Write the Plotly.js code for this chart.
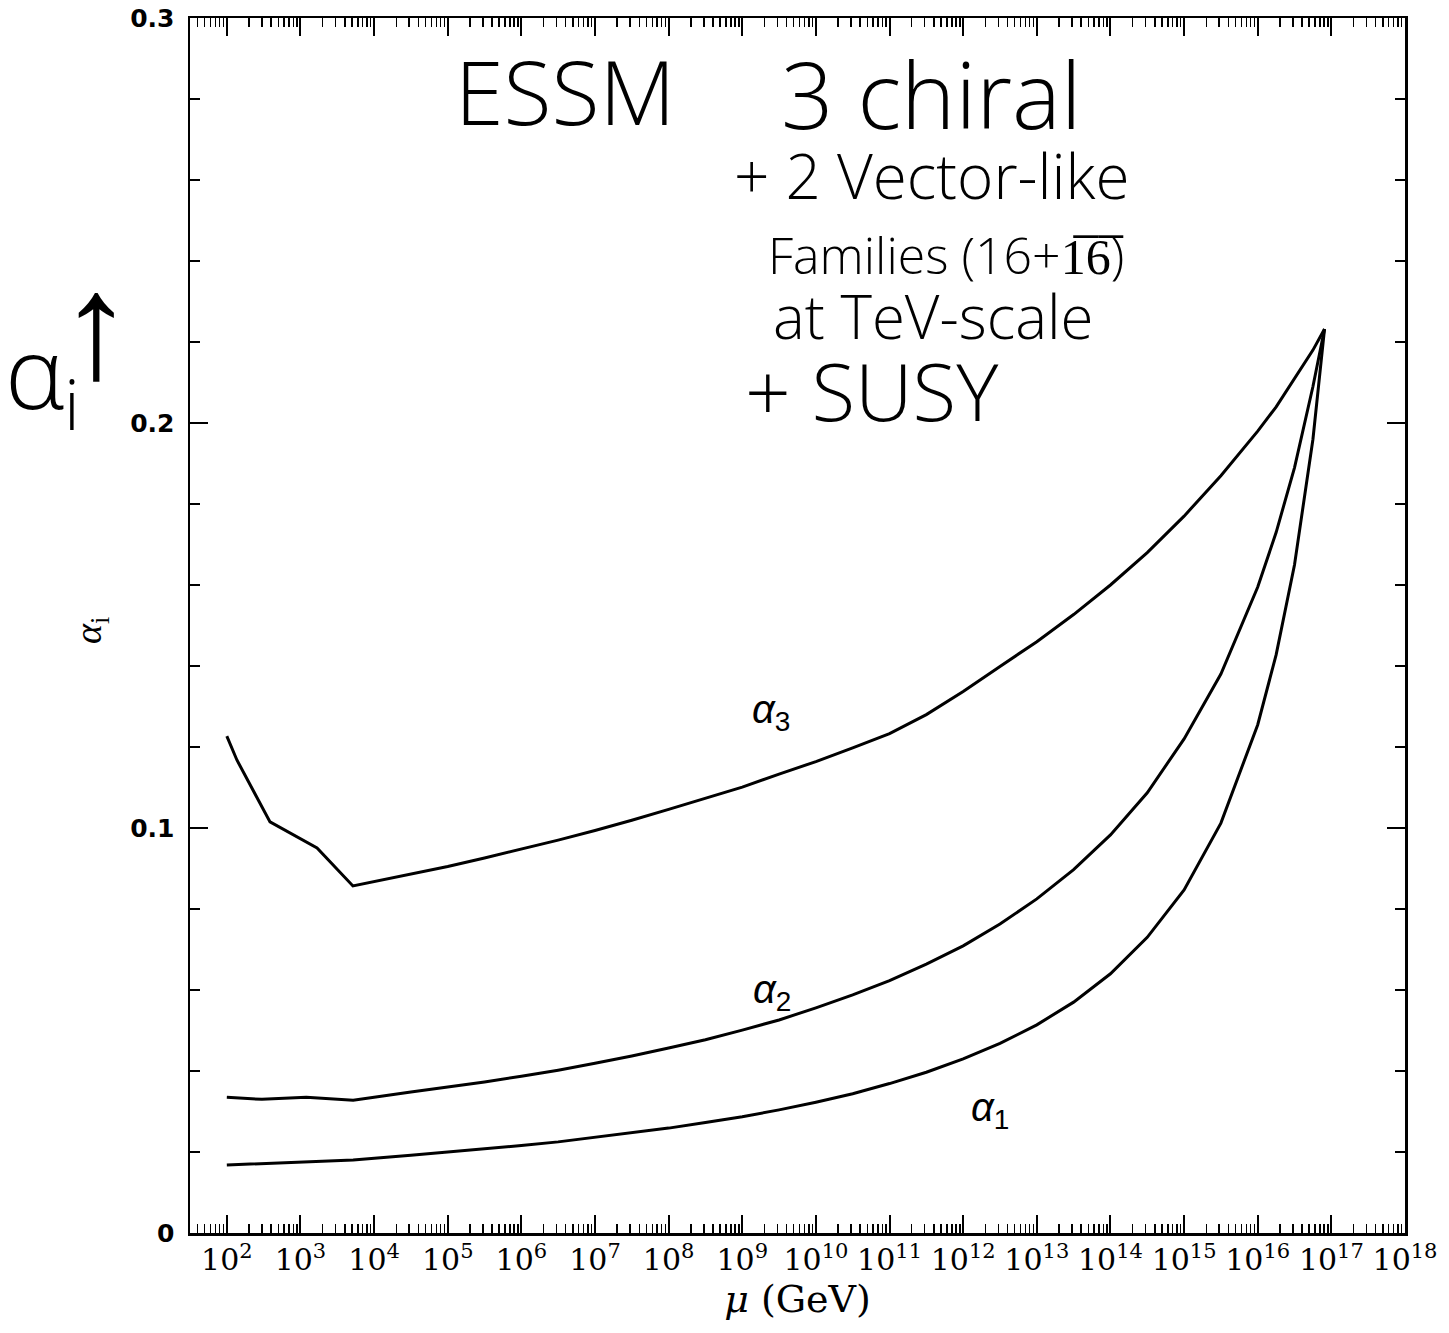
<!DOCTYPE html>
<html><head><meta charset="utf-8">
<script src="https://cdn.plot.ly/plotly-3.0.1.min.js"></script>
<style>html,body{margin:0;padding:0;background:#fff}</style>
</head><body><div id="chart" style="width:1449px;height:1333px"></div>
<script>
// Scale mu (GeV) and couplings
const mu3 = [1e2, 1.37e2, 3.86e2, 1.68e3, 5.16e3, 3.16e4, 1e5, 3.16e5, 1e6, 3.16e6, 1e7, 3.16e7, 1e8, 3.16e8, 1e9, 3.16e9, 1e10, 3.16e10, 1e11, 3.16e11, 1e12, 3.16e12, 1e13, 3.16e13, 1e14, 3.16e14, 1e15, 3.16e15, 1e16, 1.78e16, 3.16e16, 5.62e16, 8.07e16];
const alpha3 = [0.1227, 0.1168, 0.1015, 0.0951, 0.0857, 0.0886, 0.0905, 0.0926, 0.0948, 0.0970, 0.0994, 0.1019, 0.1046, 0.1073, 0.1101, 0.1133, 0.1164, 0.1198, 0.1233, 0.1280, 0.1337, 0.1399, 0.1460, 0.1527, 0.1600, 0.1680, 0.1770, 0.1870, 0.1980, 0.2040, 0.2110, 0.2180, 0.2232];

const mu2 = [1e2, 3e2, 1.2e3, 5.2e3, 3.16e4, 1e5, 3.16e5, 1e6, 3.16e6, 1e7, 3.16e7, 1e8, 3.16e8, 1e9, 3.16e9, 1e10, 3.16e10, 1e11, 3.16e11, 1e12, 3.16e12, 1e13, 3.16e13, 1e14, 3.16e14, 1e15, 3.16e15, 1e16, 1.78e16, 3.16e16, 5.62e16, 8.07e16];
const alpha2 = [0.0335, 0.0330, 0.0335, 0.0328, 0.0348, 0.0360, 0.0373, 0.0387, 0.0402, 0.0419, 0.0437, 0.0457, 0.0477, 0.0501, 0.0526, 0.0556, 0.0588, 0.0623, 0.0664, 0.0709, 0.0763, 0.0825, 0.0897, 0.0983, 0.1087, 0.1220, 0.1380, 0.1595, 0.1730, 0.1890, 0.2090, 0.2232];

const mu1 = [1e2, 1e3, 5.2e3, 3.16e4, 1e5, 3.16e5, 1e6, 3.16e6, 1e7, 3.16e7, 1e8, 3.16e8, 1e9, 3.16e9, 1e10, 3.16e10, 1e11, 3.16e11, 1e12, 3.16e12, 1e13, 3.16e13, 1e14, 3.16e14, 1e15, 3.16e15, 1e16, 1.78e16, 3.16e16, 5.62e16, 8.07e16];
const alpha1 = [0.0168, 0.0175, 0.0180, 0.0192, 0.0200, 0.0207, 0.0216, 0.0225, 0.0236, 0.0247, 0.0259, 0.0273, 0.0287, 0.0304, 0.0323, 0.0344, 0.0369, 0.0397, 0.0430, 0.0468, 0.0514, 0.0570, 0.0640, 0.0730, 0.0847, 0.1012, 0.1255, 0.1428, 0.1650, 0.1960, 0.2232];

const seriesNames = ['α3', 'α2', 'α1'];
const curveLabels = ['<i>α</i><sub>3</sub>', '<i>α</i><sub>2</sub>', '<i>α</i><sub>1</sub>'];
const curveLabelMu = [2.44e9, 2.5e9, 2.3e12];
const curveLabelAlpha = [0.1286, 0.0595, 0.0304];

const noteLines = ['ESSM', '3 chiral', '+ 2 Vector-like', 'Families (16+1\u03056\u0305)', 'at TeV-scale', '+ SUSY'];

const lineStyle = {color: '#000', width: 3};
const traces = [
  {x: mu3, y: alpha3, name: seriesNames[0], mode: 'lines', line: lineStyle},
  {x: mu2, y: alpha2, name: seriesNames[1], mode: 'lines', line: lineStyle},
  {x: mu1, y: alpha1, name: seriesNames[2], mode: 'lines', line: lineStyle}
];

const hand = {family: 'Open Sans', color: '#000', weight: 300};
const annotations = [];
for (let i = 0; i < 3; i++) {
  annotations.push({x: Math.log10(curveLabelMu[i]), y: curveLabelAlpha[i], xref: 'x', yref: 'y',
    xanchor: 'center', yanchor: 'middle',
    text: curveLabels[i], showarrow: false, font: {family: 'Liberation Sans', size: 40, color: '#000'}});
}
const notePos = [[0.309, 0.940, 88], [0.610, 0.938, 92], [0.611, 0.871, 62], [0.622, 0.805, 50], [0.612, 0.755, 60], [0.561, 0.694, 80]];
noteLines.forEach((t, i) => {
  annotations.push({x: notePos[i][0], y: notePos[i][1], xref: 'paper', yref: 'paper', text: t, showarrow: false,
    xanchor: 'center', yanchor: 'middle', borderpad: 0,
    font: Object.assign({}, hand, {size: notePos[i][2]})});
});
annotations.push({x: -0.121, y: 0.705, xref: 'paper', yref: 'paper', text: 'α<sub>i</sub>', showarrow: false,
  xanchor: 'center', yanchor: 'middle', borderpad: 0,
  font: Object.assign({}, hand, {size: 100})});
annotations.push({x: -0.077, y: 0.752, xref: 'paper', yref: 'paper', text: '↑', showarrow: false,
  xanchor: 'center', yanchor: 'middle', borderpad: 0,
  font: {family: 'Noto Sans', size: 150, color: '#000', weight: 200}});
annotations.push({x: -0.081, y: 0.496, xref: 'paper', yref: 'paper', text: '<i>α</i><sub>i</sub>', textangle: -90, showarrow: false,
  xanchor: 'center', yanchor: 'middle',
  font: {family: 'Liberation Serif', size: 38, color: '#000'}});

const layout = {
  width: 1449, height: 1333,
  margin: {l: 190, r: 44, t: 18, b: 100},
  paper_bgcolor: '#fff', plot_bgcolor: '#fff',
  showlegend: false,
  xaxis: {
    type: 'log', range: [1.5, 18], dtick: 1, exponentformat: 'power',
    ticks: 'inside', ticklen: 18, tickwidth: 2, tickcolor: '#000',
    showline: true, linewidth: 2.5, linecolor: '#000', mirror: 'allticks',
    showgrid: false, zeroline: false,
    tickfont: {family: 'DejaVu Serif', size: 24, color: '#000'},
    minor: {ticks: 'inside', ticklen: 9, tickwidth: 1.5, tickcolor: '#000', dtick: 'D1', showgrid: false},
    title: {text: '<i>μ</i> (GeV)', font: {family: 'DejaVu Serif', size: 38, color: '#000'}, standoff: 8}
  },
  yaxis: {
    range: [0, 0.3], dtick: 0.1,
    ticks: 'inside', ticklen: 18, tickwidth: 2, tickcolor: '#000',
    showline: true, linewidth: 2.5, linecolor: '#000', mirror: 'allticks',
    showgrid: false, zeroline: false, ticklabelstandoff: 8,
    tickfont: {family: 'DejaVu Sans', size: 25, color: '#000', weight: 'bold'},
    minor: {ticks: 'inside', ticklen: 10, tickwidth: 1.5, tickcolor: '#000', dtick: 0.02, showgrid: false}
  },
  annotations: annotations
};

Plotly.newPlot('chart', traces, layout, {staticPlot: true, displayModeBar: false});
</script></body></html>
